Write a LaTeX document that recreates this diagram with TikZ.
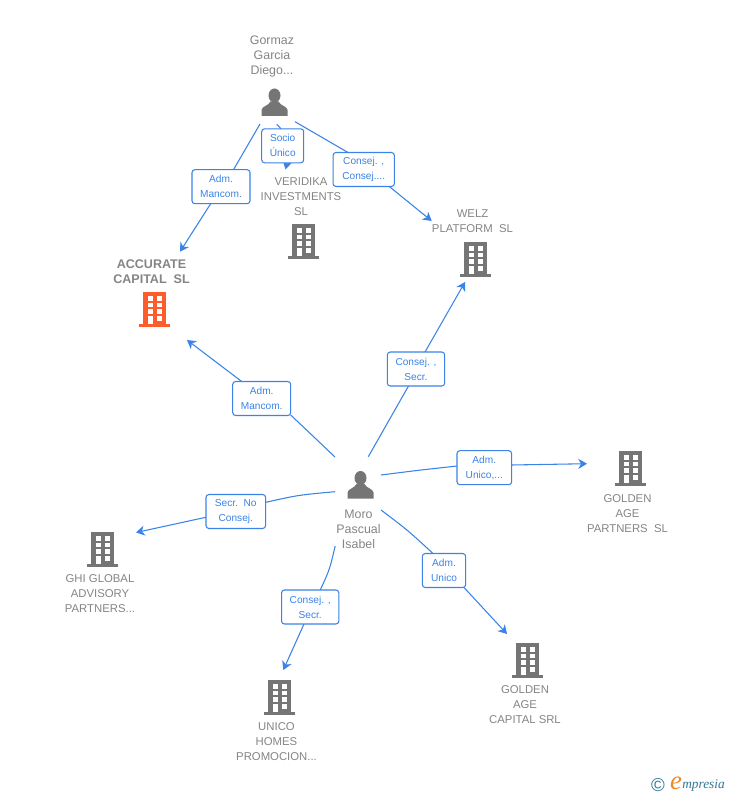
\documentclass[tikz,border=0pt]{standalone}
\usepackage{fontspec}
\setmainfont{Liberation Sans}
\newfontfamily\logofont{Liberation Serif}
\usetikzlibrary{arrows.meta,backgrounds}
\definecolor{txtgray}{HTML}{858585}
\definecolor{icongray}{HTML}{757575}
\definecolor{iconorange}{HTML}{FF5C2B}
\definecolor{linkblue}{HTML}{3B83E6}
\definecolor{logoteal}{HTML}{2F7A93}
\definecolor{logoorange}{HTML}{F08A24}
\tikzset{
  x=0.75pt,y=-0.75pt,
  ent/.style={align=center,inner sep=0pt,text=txtgray,font=\fontsize{8.5}{11.25}\selectfont},
  entname/.style={ent,font=\fontsize{9.3}{11.25}\selectfont},
  entbold/.style={ent,font=\fontsize{9.4}{11.25}\selectfont\bfseries},
  iconbox/.style={inner sep=0pt,minimum width=24pt,minimum height=26pt},
  lab/.style={draw=linkblue,line width=0.8pt,rounded corners=2.2pt,fill=white,inner sep=0pt,
    text=linkblue,align=center,font=\fontsize{7.6}{11.25}\selectfont,minimum height=25.5pt},
  conn/.style={draw=linkblue,line width=0.8pt},
  arr/.style={conn,-{Stealth[length=6.5pt,width=7.5pt,inset=2pt]}},
  pics/bld/.style={code={
    \fill[#1] (-11.5,-17) rectangle (11.5,15.5);
    \fill[#1] (-15.5,15) rectangle (15.5,17.5);
    \fill[white] (-6.5,-13) rectangle (-1.5,-8.5);
    \fill[white] (2.5,-13) rectangle (7.5,-8.5);
    \fill[white] (-6.5,-6.4) rectangle (-1.5,-1.9);
    \fill[white] (2.5,-6.4) rectangle (7.5,-1.9);
    \fill[white] (-6.5,0.2) rectangle (-1.5,4.7);
    \fill[white] (2.5,0.2) rectangle (7.5,4.7);
    \fill[white] (-6.5,7) rectangle (-1.5,15);
    \fill[white] (2.5,7) rectangle (7.5,11.5);
  }},
  pics/pers/.style={code={
    \fill[#1] (0,-7) ellipse [x radius=6,y radius=7];
    \fill[#1] (-13,13.5) -- (-13,7.5) .. controls (-12.5,3.5) and (-6,3.5) .. (-4,-1)
      -- (4,-1) .. controls (6,3.5) and (12.5,3.5) .. (13,7.5) -- (13,13.5) -- cycle;
  }}
}
\begin{document}
\begin{tikzpicture}
\useasboundingbox (0,0) rectangle (728,795);
\begin{scope}[on background layer]
\fill[white] (0,0) rectangle (728,795);
\end{scope}

% icons
\node[iconbox] (pG) at (274.5,102.5) {};
\node[iconbox] (pM) at (360.5,485) {};
\node[iconbox] (bV) at (303.5,241) {};
\node[iconbox] (bA) at (154,309) {};
\node[iconbox] (bW) at (475,259) {};
\node[iconbox] (bP) at (630,468) {};
\node[iconbox] (bC) at (527,660) {};
\node[iconbox] (bU) at (279,697) {};
\node[iconbox] (bH) at (102,549) {};
\pic at (pG) {pers=icongray};
\pic at (pM) {pers=icongray};
\pic at (bV) {bld=icongray};
\pic at (bA) {bld=iconorange};
\pic at (bW) {bld=icongray};
\pic at (bP) {bld=icongray};
\pic at (bC) {bld=icongray};
\pic at (bU) {bld=icongray};
\pic at (bH) {bld=icongray};

% entity texts
\node[entname] (tG) at (272,56) {Gormaz\\Garcia\\Diego...};
\node[entname] (tM) at (358.5,529) {Moro\\Pascual\\Isabel};
\node[ent] (tV) at (301,197) {VERIDIKA\\INVESTMENTS\\SL};
\node[entbold] (tA) at (151.5,271.5) {ACCURATE\\CAPITAL\ \ SL};
\node[ent] (tW) at (472.5,221.5) {WELZ\\PLATFORM\ \ SL};
\node[ent] (tP) at (627.5,514) {GOLDEN\\AGE\\PARTNERS\ \ SL};
\node[ent] (tC) at (525,705) {GOLDEN\\AGE\\CAPITAL SRL};
\node[ent] (tU) at (276.5,742) {UNICO\\HOMES\\PROMOCION...};
\node[ent] (tH) at (100,594) {GHI GLOBAL\\ADVISORY\\PARTNERS...};

% edge labels
\node[lab,minimum width=43.5pt] (l1) at (221,186.7) {Adm.\\Mancom.};
\node[lab,minimum width=31.5pt] (l2) at (282.7,145.8) {Socio\\Único};
\node[lab,minimum width=46pt] (l3) at (363.7,169.5) {Consej. ,\\Consej....};
\node[lab,minimum width=43.5pt] (l4) at (261.7,398.5) {Adm.\\Mancom.};
\node[lab,minimum width=43pt] (l5) at (416,369) {Consej. ,\\Secr.};
\node[lab,minimum width=41pt] (l6) at (484.3,467.7) {Adm.\\Unico,...};
\node[lab,minimum width=32.5pt] (l7) at (444,570.5) {Adm.\\Unico};
\node[lab,minimum width=43pt] (l8) at (310.2,607) {Consej. ,\\Secr.};
\node[lab,minimum width=44.7pt] (l9) at (235.8,511.5) {Secr.\ \ No\\Consej.};

% connectors (behind the labels)
\begin{scope}[on background layer]
\draw[conn] ([shift={(-14.5,21.5)}]pG.center) -- ([shift={(12.5,-17)}]l1.center);
\draw[arr] ([shift={(-10.3,17)}]l1.center) -- ([shift={(26,-57.3)}]bA.center);
\draw[conn] ([shift={(2.2,21.8)}]pG.center) -- ([shift={(-1.7,-17)}]l2.center);
\draw[arr] ([shift={(6,10)}]l2.center) -- ([shift={(-18,-71.5)}]bV.center);
\draw[conn] ([shift={(20.5,19.2)}]pG.center) -- ([shift={(-15.7,-17)}]l3.center);
\draw[arr] ([shift={(25.6,17)}]l3.center) -- ([shift={(-43.3,-38)}]bW.center);
\draw[conn] ([shift={(-25.5,-28)}]pM.center) .. controls ([shift={(-47.5,-49.5)}]pM.center) .. ([shift={(29,16.5)}]l4.center);
\draw[arr] ([shift={(-20,-17)}]l4.center) -- ([shift={(33,31)}]bA.center);
\draw[conn] ([shift={(7.8,-28.3)}]pM.center) -- ([shift={(-7.5,17)}]l5.center);
\draw[arr] ([shift={(9,-17)}]l5.center) -- ([shift={(-10,23)}]bW.center);
\draw[conn] ([shift={(20.5,-10)}]pM.center) .. controls ([shift={(60,-15)}]pM.center) .. ([shift={(-27,-1.7)}]l6.center);
\draw[arr] ([shift={(27,-2.7)}]l6.center) -- ([shift={(-43,-4.3)}]bP.center);
\draw[conn] ([shift={(20.5,25)}]pM.center) .. controls ([shift={(47,45)}]pM.center) .. ([shift={(-11,-17)}]l7.center);
\draw[arr] ([shift={(20,17)}]l7.center) -- ([shift={(-20,-26)}]bC.center);
\draw[conn] ([shift={(-25.3,61)}]pM.center) .. controls ([shift={(-31,85)}]pM.center) .. ([shift={(10,-17)}]l8.center);
\draw[arr] ([shift={(-6.2,17)}]l8.center) -- ([shift={(4.3,-27)}]bU.center);
\draw[conn] ([shift={(-25.5,6.7)}]pM.center) .. controls ([shift={(-62,10)}]pM.center) .. ([shift={(30,-9.2)}]l9.center);
\draw[arr] ([shift={(-30,5.8)}]l9.center) -- ([shift={(34,-16.5)}]bH.center);
\end{scope}

% logo
\node[inner sep=0pt,text=logoteal,font=\fontsize{14}{14}\selectfont] (logoc) at (658,785) {©};
\node[inner sep=0pt,text=logoorange,font=\logofont\itshape\fontsize{20}{20}\selectfont] (logoe) at (676,783) {e};
\node[inner sep=0pt,anchor=west,text=logoteal,font=\logofont\itshape\fontsize{10}{10}\selectfont] (logot) at (682,785) {mpresia};
\end{tikzpicture}
\end{document}
